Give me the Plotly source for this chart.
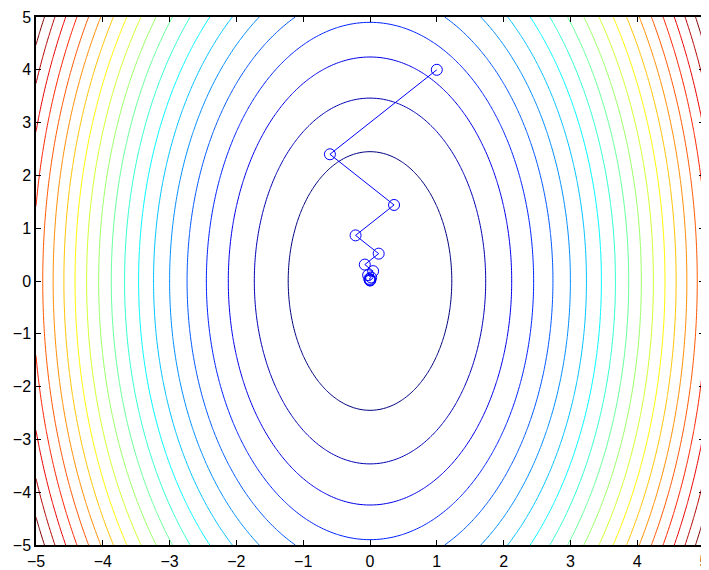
import numpy as np
import plotly.graph_objects as go

# Grid for the quadratic surface f(x, y) = x^2 + 0.25*y^2
grid_x = np.linspace(-5, 5, 201)
grid_y = np.linspace(-5, 5, 201)
coef_x = 1.0
coef_y = 0.25

# Contour levels
level_start = 1.5
level_end = 30.0
level_step = 1.5

# Gradient-descent path
path_x = [1.0, -0.6, 0.36, -0.216, 0.13, -0.078, 0.047, -0.028, 0.017, -0.010, 0.006, -0.004, 0.002]
path_y = [4.0, 2.4, 1.44, 0.864, 0.518, 0.311, 0.187, 0.112, 0.067, 0.040, 0.024, 0.015, 0.009]

tick_vals = [-5, -4, -3, -2, -1, 0, 1, 2, 3, 4, 5]

X, Y = np.meshgrid(grid_x, grid_y)
Z = coef_x * X**2 + coef_y * Y**2

matlab_jet = [
    [0.0, "rgb(0,0,128)"],
    [0.125, "rgb(0,0,255)"],
    [0.375, "rgb(0,255,255)"],
    [0.625, "rgb(255,255,0)"],
    [0.875, "rgb(255,0,0)"],
    [1.0, "rgb(128,0,0)"],
]

fig = go.Figure()
fig.add_trace(go.Contour(
    x=grid_x, y=grid_y, z=Z,
    zmin=float(Z.min()), zmax=float(Z.max()),
    colorscale=matlab_jet,
    autocontour=False,
    contours=dict(start=level_start, end=level_end, size=level_step, coloring="lines"),
    line=dict(width=1),
    showscale=False,
    hoverinfo="skip",
))
fig.add_trace(go.Scatter(
    x=path_x, y=path_y,
    mode="lines+markers",
    line=dict(color="rgb(0,0,255)", width=1),
    marker=dict(symbol="circle-open", size=11, color="rgb(0,0,255)", line=dict(width=1)),
    showlegend=False,
))

axis_common = dict(
    range=[-5, 5],
    tickvals=tick_vals,
    ticks="inside",
    ticklen=5,
    tickwidth=1,
    tickcolor="black",
    showline=True,
    linecolor="black",
    linewidth=1.5,
    mirror="ticks",
    showgrid=False,
    zeroline=False,
    automargin=False,
    ticklabeloverflow="allow",
    tickfont=dict(family="Liberation Sans, Arial, sans-serif", size=16, color="black"),
)

# The page body has an 8px default margin, so the figure is offset by 8px.
fig.update_layout(
    width=709, height=562,
    margin=dict(l=28, r=13, t=9, b=25, autoexpand=False),
    plot_bgcolor="white",
    paper_bgcolor="white",
    xaxis=dict(axis_common, ticklabelstandoff=1),
    yaxis=dict(axis_common, ticklabelstandoff=0),
    showlegend=False,
)

fig.write_html("out.html")
